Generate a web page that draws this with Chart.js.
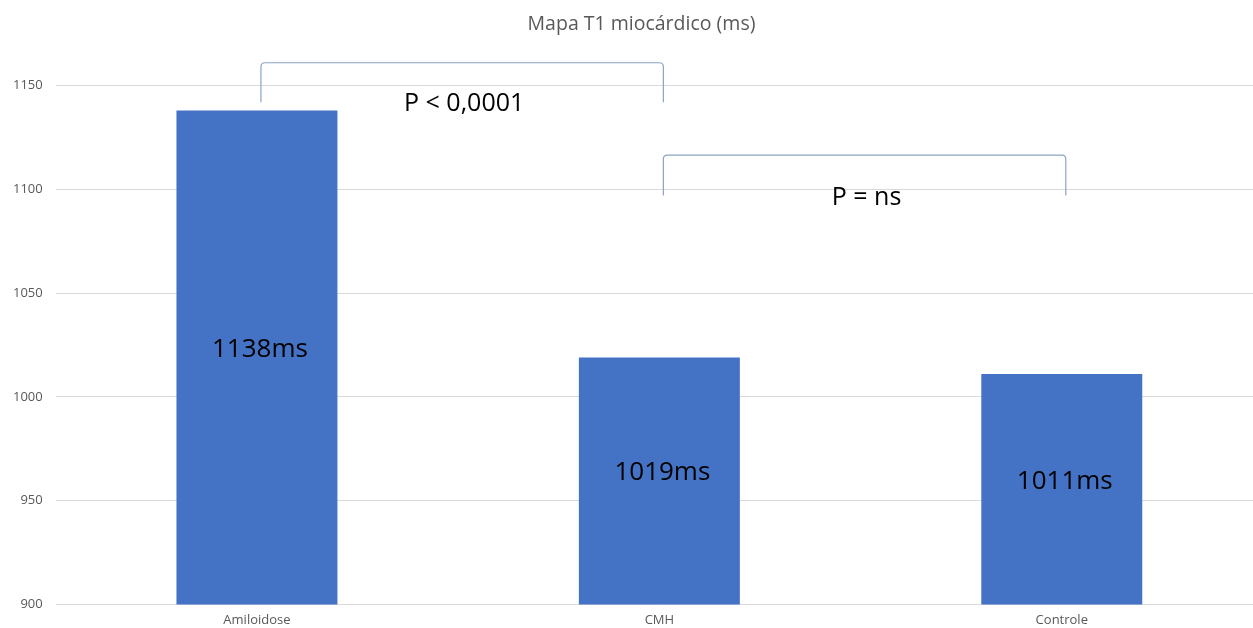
<!DOCTYPE html>
<html>
<head>
<meta charset="utf-8">
<script src="https://cdn.jsdelivr.net/npm/chart.js@4.4.1/dist/chart.umd.min.js"></script>
<style>
  html, body { margin: 0; padding: 0; background: #fff; overflow: hidden; }
  #wrap { width: 1263px; height: 628px; }
</style>
</head>
<body>
<div id="wrap"><canvas id="t1Chart"></canvas></div>
<script>
// dados do gráfico
const categories = ['Amiloidose', 'CMH', 'Controle'];
const t1Values = [1138, 1019, 1011];
const barLabels = ['1138ms', '1019ms', '1011ms'];
const yTicks = [900, 950, 1000, 1050, 1100, 1150];
const chartTitle = 'Mapa T1 miocárdico (ms)';

// chaves de significância: [categoria inicial, categoria final, topo, base, texto]
const bracketFrom = [0, 1];
const bracketTo = [1, 2];
const bracketTop = [1161, 1116.5];
const bracketBottom = [1142, 1097];
const bracketText = ['P < 0,0001', 'P = ns'];

const annotPlugin = {
  id: 'annot',
  afterDatasetsDraw(chart) {
    const ctx = chart.ctx;
    const x = chart.scales.x;
    const y = chart.scales.y;
    const base = y.getPixelForValue(y.min);

    ctx.save();
    // título (o original estava centrado numa imagem um pouco mais larga)
    ctx.fillStyle = '#595959';
    ctx.font = '19.5px "Open Sans", sans-serif';
    ctx.textAlign = 'center';
    ctx.textBaseline = 'middle';
    ctx.fillText(chartTitle, chart.width / 2 + 10, 24);

    // rótulos nas barras
    ctx.fillStyle = '#000';
    ctx.font = '26px "Open Sans", sans-serif';
    t1Values.forEach((v, i) => {
      const top = y.getPixelForValue(v);
      const cx = x.getPixelForValue(i);
      ctx.fillText(barLabels[i], cx + 3, (top + base) / 2 - 8);
    });

    // chaves
    ctx.strokeStyle = '#8ea3c4';
    ctx.lineWidth = 1.2;
    bracketFrom.forEach((from, i) => {
      const x1 = x.getPixelForValue(from) + 4;
      const x2 = x.getPixelForValue(bracketTo[i]) + 4;
      const yt = y.getPixelForValue(bracketTop[i]);
      const yb = y.getPixelForValue(bracketBottom[i]);
      const r = 4;
      ctx.beginPath();
      ctx.moveTo(x1, yb);
      ctx.lineTo(x1, yt + r);
      ctx.quadraticCurveTo(x1, yt, x1 + r, yt);
      ctx.lineTo(x2 - r, yt);
      ctx.quadraticCurveTo(x2, yt, x2, yt + r);
      ctx.lineTo(x2, yb);
      ctx.stroke();

      ctx.fillStyle = '#000';
      ctx.font = '25px "Open Sans", sans-serif';
      ctx.fillText(bracketText[i], (x1 + x2) / 2 + 2, yb + 2);
    });
    ctx.restore();
  }
};

new Chart(document.getElementById('t1Chart'), {
  type: 'bar',
  data: {
    labels: categories,
    datasets: [{
      data: t1Values,
      backgroundColor: '#4472c4',
      barPercentage: 0.4,
      categoryPercentage: 1.0
    }]
  },
  options: {
    responsive: true,
    maintainAspectRatio: false,
    animation: false,
    layout: { padding: { top: 0, left: 0, right: 0, bottom: 0 } },
    plugins: {
      legend: { display: false },
      tooltip: { enabled: false },
      title: {
        // só reserva o espaço; o texto é desenhado no plugin
        display: true,
        text: chartTitle,
        color: 'rgba(0,0,0,0)',
        font: { family: '"Open Sans", sans-serif', size: 18, weight: 'normal' },
        padding: { top: 12, bottom: 52 }
      }
    },
    scales: {
      x: {
        grid: { display: false },
        border: { display: false },
        ticks: {
          color: '#595959',
          font: { family: '"Open Sans", sans-serif', size: 13 },
          padding: 0
        }
      },
      y: {
        min: 900,
        max: 1150,
        afterBuildTicks(axis) {
          axis.ticks = yTicks.map(v => ({ value: v }));
        },
        grid: { color: '#d9d9d9', drawTicks: false },
        border: { display: false },
        ticks: {
          color: '#595959',
          font: { family: '"Open Sans", sans-serif', size: 13 },
          padding: 13,
          callback: v => String(v)
        }
      }
    }
  },
  plugins: [annotPlugin]
});
</script>
</body>
</html>
